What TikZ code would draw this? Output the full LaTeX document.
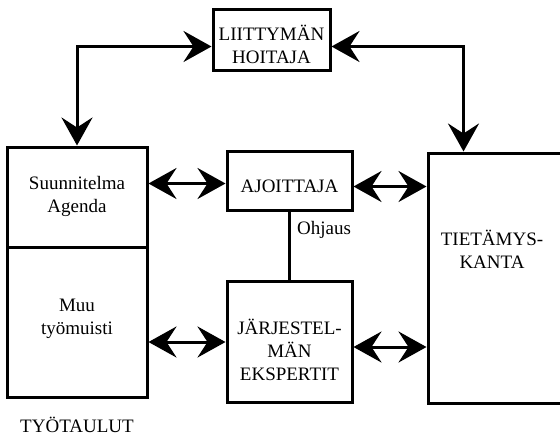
\documentclass[tikz,border=0pt]{standalone}
\usepackage{fontspec}
\setmainfont{Liberation Serif}
\usetikzlibrary{arrows.meta}
\begin{document}
\begin{tikzpicture}[x=1pt,y=-1pt,
  box/.style={draw,line width=3pt,inner sep=0pt,align=center,font=\fontsize{19}{23}\selectfont},
  txt/.style={inner sep=0pt,align=center,font=\fontsize{19}{23}\selectfont},
  tip/.tip={Stealth[length=28pt,width=31pt,inset=10pt]},
  link/.style={line width=3pt,tip-tip}]
\useasboundingbox (0,0) rectangle (560,440);
\begin{scope}
\clip (0,0) rectangle (560,440);
\node[box,minimum width=117pt,minimum height=61pt] (lh) at (271.5,39.5) {};
\node[box,minimum width=140pt,minimum height=100pt] (plan) at (77,197) {};
\node[box,minimum width=140pt,minimum height=150pt] (muu) at (77,322) {};
\node[box,minimum width=125pt,minimum height=59pt] (aj) at (289.5,180.5) {};
\node[box,minimum width=125pt,minimum height=121pt] (jar) at (289.5,342) {};
\node[box,minimum width=150pt,minimum height=250pt] (tk) at (503,278) {};
\end{scope}
\node[txt] (lht) at (271.5,44) {LIITTYMÄN\\HOITAJA};
\node[txt] (plant) at (77,196) {Suunnitelma\\Agenda};
\node[txt] (muut) at (77,319) {Muu\\työmuisti};
\node[txt] (ajt) at (289.5,186) {AJOITTAJA};
\node[txt] (jart) at (289.5,350) {JÄRJESTEL-\\MÄN\\EKSPERTIT};
\node[txt] (tkt) at (492,249) {TIETÄMYS-\\KANTA};
\node[txt] (tt) at (77,425) {TYÖTAULUT};
\draw[line width=3pt] (aj.south) -- (jar.north);
\node[txt,anchor=west] (oh) at (297,230) {Ohjaus};
\draw[link] (plan.north) |- ([yshift=-7pt]lh.west);
\draw[link] ([yshift=-7pt]lh.east) -| ([xshift=37pt]tk.north west);
\draw[link] ([yshift=-3pt]aj.west -| plan.east) -- ([yshift=-3pt]aj.west);
\draw[link] ([yshift=-6pt]aj.east) -- ([yshift=-6pt]aj.east -| tk.west);
\draw[link] (jar.west -| muu.east) -- (jar.west);
\draw[link] ([yshift=-5pt]jar.east) -- ([yshift=-5pt]jar.east -| tk.west);
\end{tikzpicture}
\end{document}
